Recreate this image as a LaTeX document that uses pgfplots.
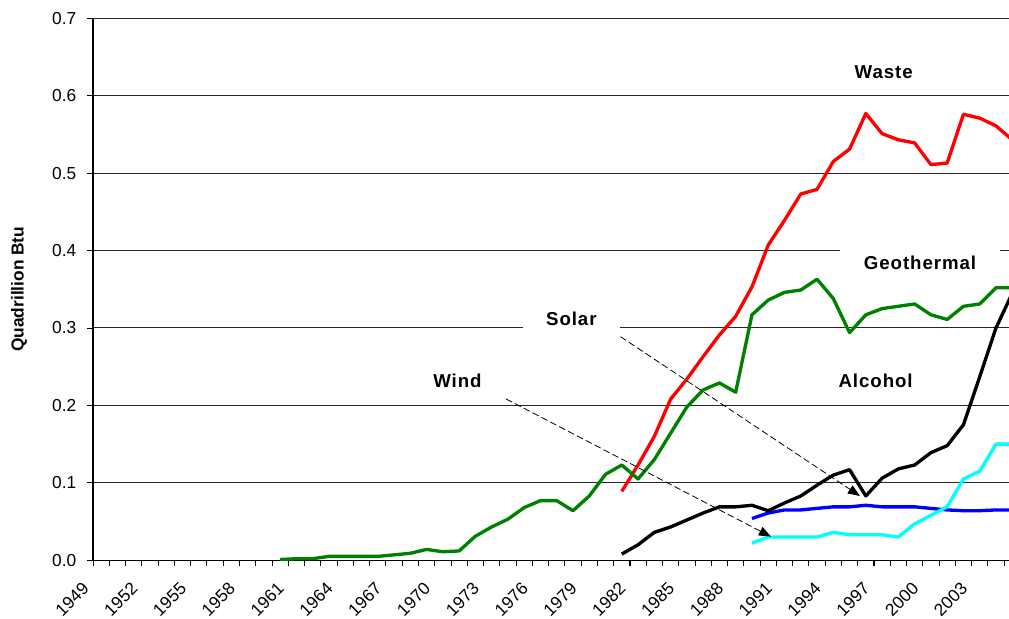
\documentclass[border=0pt]{standalone}
\usepackage{fontspec}
\setmainfont{Liberation Sans}
\newfontfamily\annfont[LetterSpace=5]{Liberation Sans}
\usepackage{pgfplots}
\pgfplotsset{compat=1.18}
\usetikzlibrary{arrows.meta}

\definecolor{cwaste}{RGB}{255,0,0}
\definecolor{cgeo}{RGB}{0,128,0}
\definecolor{csolar}{RGB}{0,0,255}
\definecolor{cwind}{RGB}{0,255,255}

\newcommand{\ann}{\annfont\bfseries\fontsize{14}{16}\selectfont}

\begin{document}
\begin{tikzpicture}
\begin{axis}[
  scale only axis,
  width=687pt, height=406.5pt,
  xmin=1948.5, xmax=2004.8,
  ymin=0, ymax=0.7,
  axis x line*=bottom, axis y line*=left,
  axis line style={line width=0.9pt},
  tick align=outside,
  major tick length=4.5pt,
  minor tick length=4.5pt,
  tick style={black, line width=0.6pt},
  xtick={1948.5,1951.5,...,2003},
  minor xtick={1948.5,1949.5,...,2004.5},
  xticklabels={1949,1952,1955,1958,1961,1964,1967,1970,1973,1976,1979,1982,1985,1988,1991,1994,1997,2000,2003},
  xticklabel style={xshift=-5.4pt, yshift=-14.4pt, rotate=45, anchor=east, inner sep=0pt},
  ytick={0,0.1,...,0.7},
  yticklabel style={xshift=-4.5pt, /pgf/number format/.cd, fixed, fixed zerofill, precision=1},
  /pgf/number format/assume math mode=true,
  ticklabel style={font=\fontsize{13}{15}\selectfont},
  ymajorgrids,
  grid style={black!85, line width=0.75pt},
  minor grid style={draw=none},
  every axis plot/.append style={line width=2.5pt, no marks, line join=round},
]
\coordinate (bl) at (rel axis cs:0,0);
\coordinate (tr) at (rel axis cs:1,1);
\coordinate (lm) at (rel axis cs:0,0.5);

% Solar
\addplot[csolar] coordinates {
(1989,0.054) (1990,0.061) (1991,0.065) (1992,0.065) (1993,0.067) (1994,0.069)
(1995,0.069) (1996,0.071) (1997,0.069) (1998,0.069) (1999,0.069) (2000,0.067)
(2001,0.065) (2002,0.064) (2003,0.064) (2004,0.065) (2005,0.065)
};
% Wind
\addplot[cwind] coordinates {
(1989,0.022) (1990,0.030) (1991,0.030) (1992,0.030) (1993,0.030) (1994,0.036)
(1995,0.033) (1996,0.033) (1997,0.033) (1998,0.030) (1999,0.047) (2000,0.058)
(2001,0.069) (2002,0.105) (2003,0.115) (2004,0.150) (2005,0.150)
};
% Waste
\addplot[cwaste] coordinates {
(1981,0.089) (1982,0.123) (1983,0.160) (1984,0.208) (1985,0.234) (1986,0.263)
(1987,0.291) (1988,0.315) (1989,0.353) (1990,0.407) (1991,0.439) (1992,0.473)
(1993,0.479) (1994,0.515) (1995,0.531) (1996,0.577) (1997,0.551) (1998,0.543)
(1999,0.539) (2000,0.511) (2001,0.513) (2002,0.576) (2003,0.571) (2004,0.561)
(2005,0.543)
};
% Geothermal
\addplot[cgeo] coordinates {
(1960,0.001) (1961,0.002) (1962,0.002) (1963,0.005) (1964,0.005) (1965,0.005)
(1966,0.005) (1967,0.007) (1968,0.009) (1969,0.014) (1970,0.011) (1971,0.012)
(1972,0.031) (1973,0.043) (1974,0.053) (1975,0.068) (1976,0.077) (1977,0.077)
(1978,0.064) (1979,0.083) (1980,0.111) (1981,0.123) (1982,0.105) (1983,0.130)
(1984,0.164) (1985,0.198) (1986,0.220) (1987,0.229) (1988,0.217) (1989,0.317)
(1990,0.336) (1991,0.346) (1992,0.349) (1993,0.363) (1994,0.338) (1995,0.294)
(1996,0.317) (1997,0.325) (1998,0.328) (1999,0.331) (2000,0.317) (2001,0.311)
(2002,0.328) (2003,0.331) (2004,0.352) (2005,0.352)
};
% Alcohol
\addplot[black] coordinates {
(1981,0.008) (1982,0.020) (1983,0.036) (1984,0.043) (1985,0.052) (1986,0.061)
(1987,0.069) (1988,0.069) (1989,0.071) (1990,0.064) (1991,0.074) (1992,0.083)
(1993,0.097) (1994,0.110) (1995,0.117) (1996,0.083) (1997,0.106) (1998,0.118)
(1999,0.123) (2000,0.139) (2001,0.148) (2002,0.175) (2003,0.237) (2004,0.300)
(2005,0.345)
};

% labels
\node[anchor=base, font=\ann] at (axis cs:1997.1,0.6216) {Waste};
\node[anchor=base, font=\ann, fill=white, inner xsep=18pt, inner ysep=5pt] at (axis cs:1999.33,0.3758) {Geothermal};
\node[anchor=base, font=\ann, fill=white, inner xsep=17.5pt, inner ysep=4pt] at (axis cs:1977.9,0.303) {Solar};
\node[anchor=base, font=\ann] at (axis cs:1970.9,0.2234) {Wind};
\node[anchor=base, font=\ann] at (axis cs:1996.6,0.2234) {Alcohol};

% arrows
\draw[line width=0.6pt, dash pattern=on 5pt off 2.5pt, -{Triangle[length=9pt,width=7pt]}]
  (axis cs:1980.92,0.2888) -- (axis cs:1995.64,0.0830);
\draw[line width=0.6pt, dash pattern=on 5pt off 2.5pt, -{Triangle[length=9pt,width=7pt]}]
  (axis cs:1973.88,0.2084) -- (axis cs:1990.17,0.0305);
\end{axis}
\node[rotate=90, anchor=center, font=\bfseries\fontsize{13}{15}\selectfont] at ([xshift=-55.5pt]lm) {Quadrillion Btu};
\pgfresetboundingbox
\path[use as bounding box] ([xshift=-69.75pt,yshift=-44pt]bl) rectangle ([yshift=13.7pt]tr);
\end{tikzpicture}
\end{document}
